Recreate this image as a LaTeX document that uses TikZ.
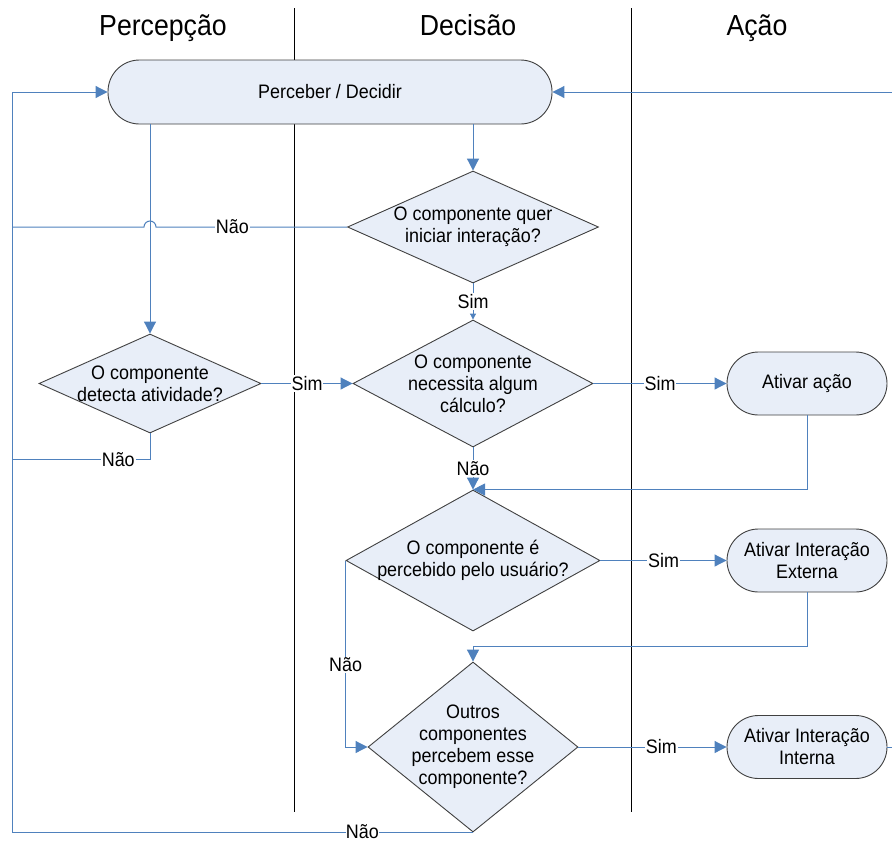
\documentclass[tikz,border=0pt]{standalone}
\usepackage{fontspec}
\setmainfont{Liberation Sans}[FakeStretch=0.92]
\usetikzlibrary{arrows.meta}
\usetikzlibrary{positioning}
\usetikzlibrary{shapes.geometric}

\definecolor{linkblue}{RGB}{79,129,189}
\definecolor{boxfill}{RGB}{232,238,248}
\definecolor{boxline}{RGB}{64,64,64}

\tikzset{
  terminal/.style={rectangle, draw=boxline, fill=boxfill, line width=0.9pt,
    rounded corners=31.5pt, minimum width=160pt, minimum height=63pt,
    align=center, inner sep=2pt},
  decision/.style={diamond, draw=boxline, fill=boxfill, line width=0.9pt,
    inner sep=-6pt, align=center},
  link/.style={draw=linkblue, line width=1pt},
  flow/.style={link, ->},
  lbl/.style={fill=white, inner sep=1pt},
  lane/.style={draw=black, line width=0.8pt},
  lanetitle/.style={font=\fontsize{29}{34}\selectfont, anchor=base},
}

\begin{document}
\begin{tikzpicture}[x=1pt, y=-1pt, on grid,
    font=\fontsize{19.5}{22}\selectfont,
    >={Triangle[length=12pt,width=12pt]}]
  \useasboundingbox (0,0) rectangle (892,841);

  % raias
  \draw[lane] (294,8) -- (294,812);
  \draw[lane] (631,8) -- (631,812);
  \node[lanetitle] (t_percepcao) at (163,35) {Percepção};
  \node[lanetitle] (t_decisao) at (468,35) {Decisão};
  \node[lanetitle] (t_acao) at (757,35) {Ação};

  \node[terminal, minimum width=444pt, minimum height=64pt] (perceber) at (330,92) {Perceber / Decidir};
  \node[decision, aspect=2.241, minimum width=251pt, minimum height=112pt] (quer) at (473,227) {O componente quer\\iniciar interação?};
  \node[decision, aspect=1.890, minimum width=240pt, minimum height=127pt] (calculo) [below=156.5pt of quer] {O componente\\necessita algum\\cálculo?};
  \node[decision, aspect=2.242, minimum width=222pt, minimum height=99pt] (detecta) [left=323pt of calculo] {O componente\\detecta atividade?};
  \node[terminal] (acao) [right=334pt of calculo] {Ativar ação};
  \node[decision, aspect=1.801, minimum width=254pt, minimum height=141pt] (percebido) [below=177pt of calculo] {O componente é\\percebido pelo usuário?};
  \node[terminal] (externa) [right=334pt of percebido] {Ativar Interação\\Externa};
  \node[decision, aspect=1.235, minimum width=210pt, minimum height=170pt] (outros) [below=186.5pt of percebido] {Outros\\componentes\\percebem esse\\componente?};
  \node[terminal] (interna) [right=334pt of outros] {Ativar Interação\\Interna};

  \coordinate (loop) at (12,0);
  \coordinate (borda) at (892,0);
  \coordinate (hop) at (detecta.north |- quer.west);

  \draw[flow] (borda |- perceber.east) -- (perceber.east);
  \draw[flow] (perceber.south -| quer.north) -- (quer.north);
  \draw[flow] (perceber.south -| detecta.north) -- (detecta.north);
  \draw[link] (quer.west) -- node[lbl, pos=0.6] {Não} ([xshift=6pt]hop)
    arc[start angle=0, end angle=-180, radius=6] -- (loop |- quer.west);
  \draw[link, -{Triangle[length=6pt,width=6pt]}] (quer.south) -- node[lbl] {Sim} (calculo.north);
  \draw[flow] (detecta.east) -- node[lbl] {Sim} (calculo.west);
  \draw[link] (detecta.south) -- ++(0,26) coordinate (nao_d)
    -- node[lbl, pos=0.23] {Não} (loop |- nao_d);
  \draw[flow] (calculo.east) -- node[lbl] {Sim} (acao.west);
  \draw[flow] (calculo.south) -- node[lbl] {Não} (percebido.north);
  \draw[flow] (acao.south) |- (percebido.north);
  \draw[flow] (percebido.east) -- node[lbl] {Sim} (externa.west);
  \draw[flow] (externa.south) |- ([yshift=15pt]outros.north) -- (outros.north);
  \draw[flow] (percebido.west) |- node[lbl, pos=0.28] {Não} (outros.west);
  \draw[flow] (outros.east) -- node[lbl, pos=0.56] {Sim} (interna.west);
  \draw[link] (interna.east) -- (borda |- interna.east);
  \draw[flow] (outros.south) -- node[lbl, pos=0.24, inner sep=0pt, yshift=1pt] {Não} (loop |- outros.south) |- (perceber.west);
\end{tikzpicture}
\end{document}
